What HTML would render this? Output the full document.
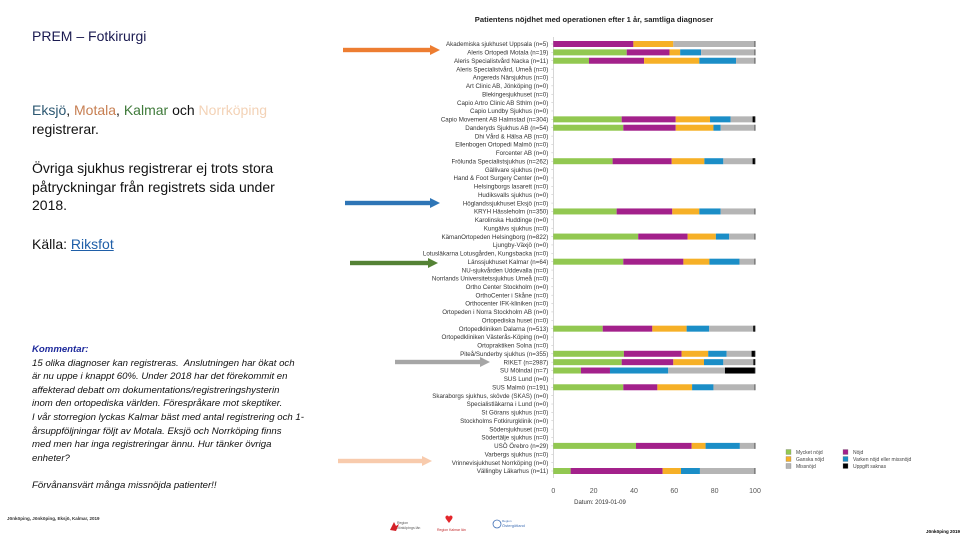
<!DOCTYPE html>
<html><head><meta charset="utf-8">
<style>
html,body{margin:0;padding:0;background:#fff;}
body{width:960px;height:540px;position:relative;overflow:hidden;font-family:"Liberation Sans","DejaVu Sans",sans-serif;}
.t{position:absolute;white-space:nowrap;}
.big{font-size:14px;color:#111;line-height:18.5px;}
.cm{font-size:9.6px;font-style:italic;color:#111;line-height:13.6px;}
</style></head>
<body>
<div class="t big" style="left:32px;top:27px;color:#1a1a50;">PREM – Fotkirurgi</div>
<div class="t big" style="left:32px;top:101px;">
<span style="color:#2d5872">Eksjö</span>, <span style="color:#c77f52">Motala</span>, <span style="color:#3f7a3a">Kalmar</span> och <span style="color:#f3d2b6">Norrköping</span><br>registrerar.</div>
<div class="t big" style="left:32px;top:159px;">Övriga sjukhus registrerar ej trots stora<br>påtryckningar från registrets sida under<br>2018.</div>
<div class="t big" style="left:32px;top:235px;">Källa: <span style="color:#1f5fa8;text-decoration:underline;">Riksfot</span></div>
<div class="t cm" style="left:32px;top:343px;">
<b style="color:#1e2a9c">Kommentar:</b><br>
15 olika diagnoser kan registreras.&nbsp; Anslutningen har ökat och<br>
är nu uppe i knappt 60%. Under 2018 har det förekommit en<br>
affekterad debatt om dokumentations/registreringshysterin<br>
inom den ortopediska världen. Förespråkare mot skeptiker.<br>
I vår storregion lyckas Kalmar bäst med antal registrering och 1-<br>
årsuppföljningar följt av Motala. Eksjö och Norrköping finns<br>
med men har inga registreringar ännu. Hur tänker övriga<br>
enheter?<br><br>
Förvånansvärt många missnöjda patienter!!</div>
<div class="t" style="left:7px;top:516px;font-size:4.5px;color:#333;font-weight:bold;">Jönköping, Jönköping, Eksjö, Kalmar, 2019</div>
<div class="t" style="left:926px;top:529px;font-size:4.5px;color:#000;font-weight:bold;">Jönköping 2019</div>

<svg width="960" height="540" style="position:absolute;left:0;top:0" id="chart">
  <g id="logos">
    <path d="M390 530 l4 -8 l2 4 l3 -2 l-3 7 z" fill="#d32027"/>
    <text x="397" y="524" font-size="3.5" fill="#555">Region</text>
    <text x="397" y="529" font-size="3.5" fill="#555">Jönköpings län</text>
    <path d="M446 519 c-2 -3 2 -5 3 -2 c1 -3 5 -1 3 2 l-3 4 z" fill="#e3262b"/>
    <text x="437" y="531" font-size="3.5" fill="#c0282a">Region Kalmar län</text>
    <circle cx="497" cy="524" r="4" fill="none" stroke="#3f6fb5" stroke-width="0.8"/>
    <text x="502" y="522" font-size="3" fill="#3f6fb5">Region</text>
    <text x="502" y="527" font-size="4" fill="#3f6fb5">Östergötland</text>
  </g>
</svg>
<script>
const categories = ["Akademiska sjukhuset Uppsala (n=5)","Aleris Ortopedi Motala (n=19)","Aleris Specialistvård Nacka (n=11)","Aleris Specialistvård, Umeå (n=0)","Angereds Närsjukhus (n=0)","Art Clinic AB, Jönköping (n=0)","Blekingesjukhuset (n=0)","Capio Artro Clinic AB Sthlm (n=0)","Capio Lundby Sjukhus (n=0)","Capio Movement AB Halmstad (n=304)","Danderyds Sjukhus AB (n=54)","Dhi Vård & Hälsa AB (n=0)","Ellenbogen Ortopedi Malmö (n=0)","Forcenter AB (n=0)","Frölunda Specialistsjukhus (n=262)","Gällivare sjukhus (n=0)","Hand & Foot Surgery Center (n=0)","Helsingborgs lasarett (n=0)","Hudiksvalls sjukhus (n=0)","Höglandssjukhuset Eksjö (n=0)","KRYH Hässleholm (n=350)","Karolinska Huddinge (n=0)","Kungälvs sjukhus (n=0)","KämanOrtopeden Helsingborg (n=822)","Ljungby-Växjö (n=0)","Lotusläkarna Lotusgården, Kungsbacka (n=0)","Länssjukhuset Kalmar (n=64)","NU-sjukvården Uddevalla (n=0)","Norrlands Universitetssjukhus Umeå (n=0)","Ortho Center Stockholm (n=0)","OrthoCenter i Skåne (n=0)","Orthocenter IFK-kliniken (n=0)","Ortopeden i Norra Stockholm AB (n=0)","Ortopediska huset (n=0)","Ortopedkliniken Dalarna (n=513)","Ortopedkliniken Västerås-Köping (n=0)","Ortopraktiken Solna (n=0)","Piteå/Sunderby sjukhus (n=355)","RIKET (n=2987)","SU Mölndal (n=7)","SUS Lund (n=0)","SUS Malmö (n=191)","Skaraborgs sjukhus, skövde (SKAS) (n=0)","Specialistläkarna i Lund (n=0)","St Görans sjukhus (n=0)","Stockholms Fotkirurgklinik (n=0)","Södersjukhuset (n=0)","Södertälje sjukhus (n=0)","USÖ Örebro (n=29)","Varbergs sjukhus (n=0)","Vrinnevisjukhuset Norrköping (n=0)","Vällingby Läkarhus (n=11)"];
const mycketNojd = [0,36.4,17.7,0,0,0,0,0,0,33.9,34.7,0,0,0,29.4,0,0,0,0,0,31.4,0,0,42.1,0,0,34.7,0,0,0,0,0,0,0,24.5,0,0,35,33.9,13.7,0,34.7,0,0,0,0,0,0,41,0,0,8.6];
const nojd = [39.7,21.2,27.3,0,0,0,0,0,0,26.8,26,0,0,0,29.3,0,0,0,0,0,27.6,0,0,24.5,0,0,29.8,0,0,0,0,0,0,0,24.6,0,0,28.6,25.6,14.4,0,16.9,0,0,0,0,0,0,27.6,0,0,45.6];
const ganskaNojd = [19.8,5.3,27.4,0,0,0,0,0,0,17,18.7,0,0,0,16.2,0,0,0,0,0,13.4,0,0,14,0,0,12.9,0,0,0,0,0,0,0,17,0,0,13.2,15.2,0,0,17.2,0,0,0,0,0,0,6.9,0,0,9.1];
const varken = [0,10.4,18.2,0,0,0,0,0,0,10.2,3.6,0,0,0,9.4,0,0,0,0,0,10.6,0,0,6.6,0,0,14.9,0,0,0,0,0,0,0,11.2,0,0,9.1,9.6,28.9,0,10.6,0,0,0,0,0,0,17,0,0,9.4];
const missnojd = [40.5,26.7,9.4,0,0,0,0,0,0,10.9,17,0,0,0,14.5,0,0,0,0,0,17,0,0,12.8,0,0,7.7,0,0,0,0,0,0,0,21.8,0,0,12.4,14.9,28.1,0,20.6,0,0,0,0,0,0,7.5,0,0,27.3];
const saknas = [0,0,0,0,0,0,0,0,0,1.2,0,0,0,0,1.2,0,0,0,0,0,0,0,0,0,0,0,0,0,0,0,0,0,0,0,0.9,0,0,1.7,0.8,14.9,0,0,0,0,0,0,0,0,0,0,0,0];
const xTicks = [0,20,40,60,80,100];
const seriesNames = ["Mycket nöjd","Nöjd","Ganska nöjd","Varken nöjd eller missnöjd","Missnöjd","Uppgift saknas"];

const NS="http://www.w3.org/2000/svg";
const svg=document.getElementById('chart');
const X0=553.3, X1=755, Y0=44, Y1=471;
const xs=v=>X0+(X1-X0)*v/100;
const ys=i=>Y0+(Y1-Y0)*i/(categories.length-1);
function mk(tag,a,p){const e=document.createElementNS(NS,tag);for(const k in a)e.setAttribute(k,a[k]);(p||svg).appendChild(e);return e;}

const title=mk('text',{x:594,y:22,'font-size':7.6,'font-weight':'bold','text-anchor':'middle',fill:'#222'});
title.textContent='Patientens nöjdhet med operationen efter 1 år, samtliga diagnoser';



const yAxis=mk('line',{x1:X0,y1:37,x2:X0,y2:478,stroke:'#bbb','stroke-width':0.6});



const series=[mycketNojd,nojd,ganskaNojd,varken,missnojd,saknas];
const colors=['#92c851','#a3218b','#f6b027','#1b8ec7','#b5b5b5','#000'];

categories.forEach((c,i)=>{
  const y=ys(i);
  const lbl=mk('text',{x:X0-5,y:y+2.2,'font-size':6.2,'text-anchor':'end',fill:'#333'});
  lbl.textContent=c;
  
  
  mk('line',{x1:X0-2,y1:y,x2:X0,y2:y,stroke:'#bbb','stroke-width':0.5});
  let acc=0;
  series.forEach((s,k)=>{
    const v=s[i];
    if(v>0){
      const r=mk('rect',{x:xs(acc),y:y-3,width:xs(acc+v)-xs(acc),height:6,fill:colors[k]});
      
      
    }
    acc+=v;
  });
  if(acc>0){mk('line',{x1:xs(100),y1:y-3,x2:xs(100),y2:y+3,stroke:'#333','stroke-width':0.8});}
});

xTicks.forEach(t=>{
  const tx=mk('text',{x:xs(t),y:493,'font-size':7,'text-anchor':'middle',fill:'#555'});
  tx.textContent=t;
  
  
});
const dt=mk('text',{x:600,y:504,'font-size':6,'text-anchor':'middle',fill:'#333'});
dt.textContent='Datum: 2019-01-09';



const legOrder=[[0,786,452],[2,786,459],[4,786,466],[1,843,452],[3,843,459],[5,843,466]];
legOrder.forEach(([k,x,y])=>{
  const g=mk('g',{});
  
  
  mk('rect',{x:x,y:y-2.5,width:5,height:5,fill:colors[k],stroke:'#777','stroke-width':0.3},g);
  const t=mk('text',{x:x+10,y:y+2,'font-size':5,fill:'#444'},g);
  t.textContent=seriesNames[k];
});

const arrows=[[343,440,50,'#ed7d31','arrow-motala'],[345,440,203,'#2e75b6','arrow-eksjo'],[350,438,263,'#548235','arrow-kalmar'],[395,490,362,'#a6a6a6','arrow-riket'],[338,432,461,'#f8cbad','arrow-norrkoping']];
arrows.forEach(([a,b,y,c,n])=>{
  const g=mk('g',{});
  
  
  mk('rect',{x:a,y:y-2.2,width:b-a-9,height:4.4,fill:c},g);
  mk('polygon',{points:`${b-10},${y-5} ${b},${y} ${b-10},${y+5}`,fill:c},g);
});
</script>
</body></html>
